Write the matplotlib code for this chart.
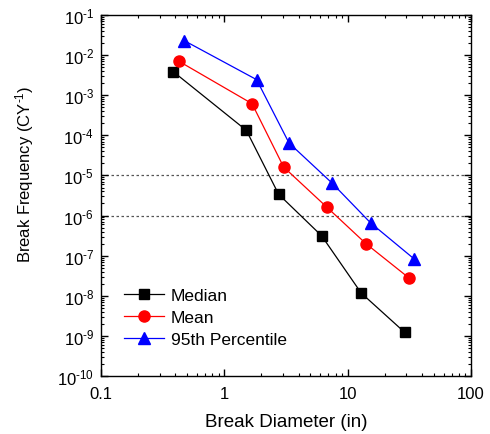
import matplotlib
matplotlib.use("Agg")
import matplotlib.pyplot as plt
from matplotlib.ticker import LogLocator, NullFormatter, FuncFormatter
import numpy as np

plt.rcParams['font.family'] = ['Liberation Sans', 'DejaVu Sans']
plt.rcParams['mathtext.fontset'] = 'custom'
plt.rcParams['mathtext.rm'] = 'Liberation Sans'
plt.rcParams['mathtext.it'] = 'Liberation Sans:italic'
plt.rcParams['mathtext.bf'] = 'Liberation Sans:bold'
plt.rcParams['axes.unicode_minus'] = False

median_x = [0.386, 1.51, 2.76, 6.16, 12.9, 29.0]
median_y = [3.86e-3, 1.33e-4, 3.39e-6, 3.13e-7, 1.17e-8, 1.23e-9]
mean_x = [0.429, 1.68, 3.03, 6.80, 14.1, 31.3]
mean_y = [7.01e-3, 6.15e-4, 1.62e-5, 1.61e-6, 1.99e-7, 2.82e-8]
p95_x = [0.474, 1.83, 3.35, 7.47, 15.4, 34.7]
p95_y = [2.29e-2, 2.44e-3, 6.44e-5, 6.48e-6, 6.52e-7, 8.26e-8]
ref_levels = [1e-5, 1e-6]
x_ticks = [0.1, 1, 10, 100]
x_ticklabels = ['0.1', '1', '10', '100']

fig = plt.figure(figsize=(4.9, 4.35), dpi=100)
ax = fig.add_axes([0.206, 0.1333, 0.755, 0.830])

for lvl in ref_levels:
    ax.axhline(lvl, color='#555555', linestyle=(0, (2, 2)), linewidth=0.9, zorder=1)

ax.plot(median_x, median_y, color='black', marker='s', markersize=7, linewidth=0.9, label='Median', zorder=3)
ax.plot(mean_x, mean_y, color='red', marker='o', markersize=8, linewidth=0.9, label='Mean', zorder=3)
ax.plot(p95_x, p95_y, color='blue', marker='^', markersize=8.5, linewidth=0.9, label='95th Percentile', zorder=3)

ax.set_xscale('log')
ax.set_yscale('log')
ax.set_xlim(0.1, 100)
ax.set_ylim(1e-10, 1e-1)

def yfmt(v, pos):
    e = int(round(np.log10(v)))
    return r'10$^{\text{%d}}$' % e

ax.yaxis.set_major_locator(LogLocator(base=10, numticks=20))
ax.yaxis.set_major_formatter(FuncFormatter(yfmt))
ax.yaxis.set_minor_locator(LogLocator(base=10, subs=range(2, 10), numticks=20))
ax.yaxis.set_minor_formatter(NullFormatter())
ax.set_xticks(x_ticks)
ax.set_xticklabels(x_ticklabels)
ax.xaxis.set_minor_locator(LogLocator(base=10, subs=range(2, 10), numticks=20))
ax.xaxis.set_minor_formatter(NullFormatter())

ax.tick_params(which='both', direction='in', top=True, right=True)
ax.tick_params(axis='x', labelsize=12, pad=7)
ax.tick_params(axis='y', labelsize=12, pad=5)
ax.tick_params(which='major', length=5, width=1)
ax.tick_params(which='minor', length=2.5, width=0.8)
for s in ax.spines.values():
    s.set_linewidth(1.0)

ax.set_xlabel('Break Diameter (in)', fontsize=13.5, labelpad=9)
ax.set_ylabel('Break Frequency (CY$^{\\text{-1}}$)', fontsize=12)
ax.yaxis.set_label_coords(-0.175, 0.562)

ax.legend(loc='lower left', bbox_to_anchor=(0.02, 0.036), frameon=False, fontsize=12.5,
          handlelength=2.3, handletextpad=0.4, labelspacing=0.4)

fig.savefig('out.png', dpi=100)
